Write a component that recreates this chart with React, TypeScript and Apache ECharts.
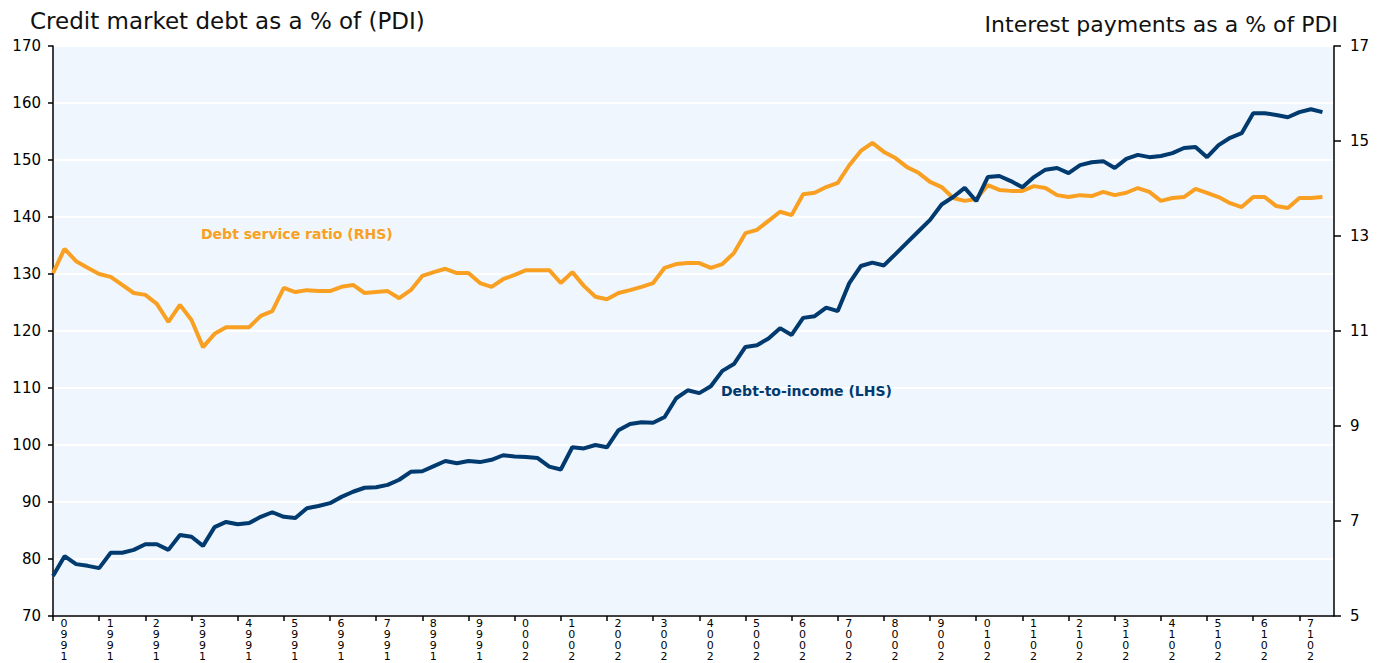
import React, { useEffect, useRef } from "react";
import * as echarts from "echarts";

const years = [
  1990, 1991, 1992, 1993, 1994, 1995, 1996, 1997, 1998, 1999, 2000, 2001, 2002, 2003,
  2004, 2005, 2006, 2007, 2008, 2009, 2010, 2011, 2012, 2013, 2014, 2015, 2016, 2017,
];
const quarterNames = ["Q1", "Q2", "Q3", "Q4"];
const nQuarters = 111; // 1990Q1 .. 2017Q3
const categories: string[] = years
  .flatMap((y) => quarterNames.map((q) => `${y}${q}`))
  .slice(0, nQuarters)
  .concat([""]);

// Credit market debt as % of PDI (LHS)
const debtToIncome = [
  77.0, 80.5, 79.1, 78.8, 78.4, 81.1, 81.1, 81.6, 82.6, 82.6, 81.6, 84.2, 83.9, 82.3, 85.6, 86.5,
  86.1, 86.3, 87.4, 88.2, 87.4, 87.2, 88.9, 89.3, 89.8, 90.9, 91.8, 92.5, 92.6, 93.0, 93.9, 95.3,
  95.4, 96.3, 97.2, 96.8, 97.2, 97.0, 97.4, 98.2, 98.0, 97.9, 97.7, 96.2, 95.7, 99.6, 99.4, 100.0,
  99.6, 102.6, 103.7, 104.0, 103.9, 104.9, 108.2, 109.6, 109.1, 110.3, 113.0, 114.2, 117.2, 117.5,
  118.7, 120.5, 119.3, 122.3, 122.6, 124.1, 123.5, 128.4, 131.4, 132.0, 131.5, 133.5, 135.5, 137.5,
  139.5, 142.2, 143.5, 145.1, 142.8, 147.0, 147.2, 146.3, 145.2, 147.0, 148.3, 148.6, 147.7, 149.1,
  149.6, 149.8, 148.6, 150.2, 150.9, 150.5, 150.7, 151.2, 152.1, 152.3, 150.5, 152.6, 153.9, 154.7,
  158.2, 158.2, 157.9, 157.5, 158.4, 158.9, 158.4,
];

// Debt service ratio, interest payments as % of PDI (RHS)
const debtServiceRatio = [
  12.22, 12.73, 12.47, 12.33, 12.2, 12.14, 11.97, 11.8, 11.76, 11.57, 11.19, 11.55, 11.23, 10.66,
  10.94, 11.08, 11.08, 11.08, 11.32, 11.42, 11.91, 11.82, 11.86, 11.84, 11.84, 11.93, 11.97, 11.8,
  11.82, 11.84, 11.69, 11.86, 12.16, 12.24, 12.31, 12.22, 12.22, 12.01, 11.93, 12.09, 12.18, 12.28,
  12.28, 12.28, 12.01, 12.24, 11.95, 11.72, 11.67, 11.8, 11.86, 11.93, 12.01, 12.33, 12.41, 12.43,
  12.43, 12.33, 12.41, 12.64, 13.06, 13.13, 13.32, 13.51, 13.44, 13.88, 13.91, 14.03, 14.12, 14.49,
  14.79, 14.96, 14.77, 14.64, 14.45, 14.33, 14.14, 14.03, 13.8, 13.74, 13.78, 14.07, 13.97, 13.95,
  13.95, 14.05, 14.01, 13.86, 13.82, 13.86, 13.84, 13.93, 13.86, 13.91, 14.01, 13.93, 13.74, 13.8,
  13.82, 13.99, 13.91, 13.82, 13.69, 13.61, 13.82, 13.82, 13.63, 13.59, 13.8, 13.8, 13.82,
];

const leftTitle = "Credit market debt as a % of (PDI)";
const rightTitle = "Interest payments as a % of PDI";
const dsrLabel = "Debt service ratio (RHS)";
const dtiLabel = "Debt-to-income (LHS)";

const NAVY = "#003A6E";
const ORANGE = "#F9A023";
const FONT = "DejaVu Sans";

export default function App() {
  const ref = useRef<HTMLDivElement>(null);
  useEffect(() => {
    if (!ref.current) return;
    const chart = echarts.init(ref.current, undefined, { renderer: "svg" });
    const showIdx = (i: number) => i % 4 === 0;
    chart.setOption({
      animation: false,
      backgroundColor: "#ffffff",
      textStyle: { fontFamily: FONT },
      grid: {
        left: 53,
        right: 45,
        top: 46,
        bottom: 47,
        show: true,
        backgroundColor: "#EFF6FD",
        borderWidth: 0,
        containLabel: false,
        outerBoundsMode: "none",
      },
      title: [
        {
          text: leftTitle,
          left: 25,
          top: 4,
          textStyle: { fontFamily: FONT, fontSize: 23, fontWeight: "normal", color: "#111" },
        },
        {
          text: rightTitle,
          right: 36,
          top: 8,
          textStyle: { fontFamily: FONT, fontSize: 22, fontWeight: "normal", color: "#111" },
        },
      ],
      graphic: [
        {
          type: "text",
          left: 201,
          top: 227,
          z: 100,
          style: { text: dsrLabel, fill: ORANGE, font: `bold 14px "${FONT}"` },
        },
        {
          type: "text",
          left: 721,
          top: 384,
          z: 100,
          style: { text: dtiLabel, fill: NAVY, font: `bold 14px "${FONT}"` },
        },
      ],
      xAxis: {
        type: "category",
        data: categories,
        boundaryGap: false,
        axisLine: { show: true, lineStyle: { color: "#000", width: 1.5 } },
        axisTick: {
          show: true,
          interval: (i: number) => showIdx(i),
          length: 5,
          lineStyle: { color: "#000", width: 1.5 },
        },
        axisLabel: {
          interval: (i: number) => showIdx(i),
          formatter: (v: string, i: number) =>
            showIdx(i) && v ? v.slice(0, 4).split("").reverse().join("\n") : "",
          color: "#000",
          fontSize: 11,
          lineHeight: 11,
          fontFamily: FONT,
          margin: 2,
          padding: [0, 0, 0, 22],
        },
        splitLine: { show: false },
      },
      yAxis: [
        {
          type: "value",
          min: 70,
          max: 170,
          interval: 10,
          axisLine: { show: true, lineStyle: { color: "#000", width: 1.5 } },
          axisTick: { show: true, length: 5, lineStyle: { color: "#000", width: 1.5 } },
          axisLabel: { color: "#000", fontSize: 15, fontFamily: FONT, margin: 12 },
          splitLine: { show: true, lineStyle: { color: "#ffffff", width: 2 } },
        },
        {
          type: "value",
          min: 5,
          max: 17,
          interval: 2,
          position: "right",
          axisLine: { show: true, lineStyle: { color: "#000", width: 1.5 } },
          axisTick: { show: true, length: 7, lineStyle: { color: "#000", width: 1.5 } },
          axisLabel: { color: "#000", fontSize: 15, fontFamily: FONT, margin: 16 },
          splitLine: { show: false },
        },
      ],
      series: [
        {
          name: dtiLabel,
          type: "line",
          yAxisIndex: 0,
          data: debtToIncome,
          symbol: "none",
          lineStyle: { color: NAVY, width: 4 },
          z: 3,
        },
        {
          name: dsrLabel,
          type: "line",
          yAxisIndex: 1,
          data: debtServiceRatio,
          symbol: "none",
          lineStyle: { color: ORANGE, width: 4 },
          z: 2,
        },
      ],
    });
    return () => chart.dispose();
  }, []);
  return <div ref={ref} style={{ width: 1379, height: 663, position: "absolute", left: 0, top: 0 }} />;
}
